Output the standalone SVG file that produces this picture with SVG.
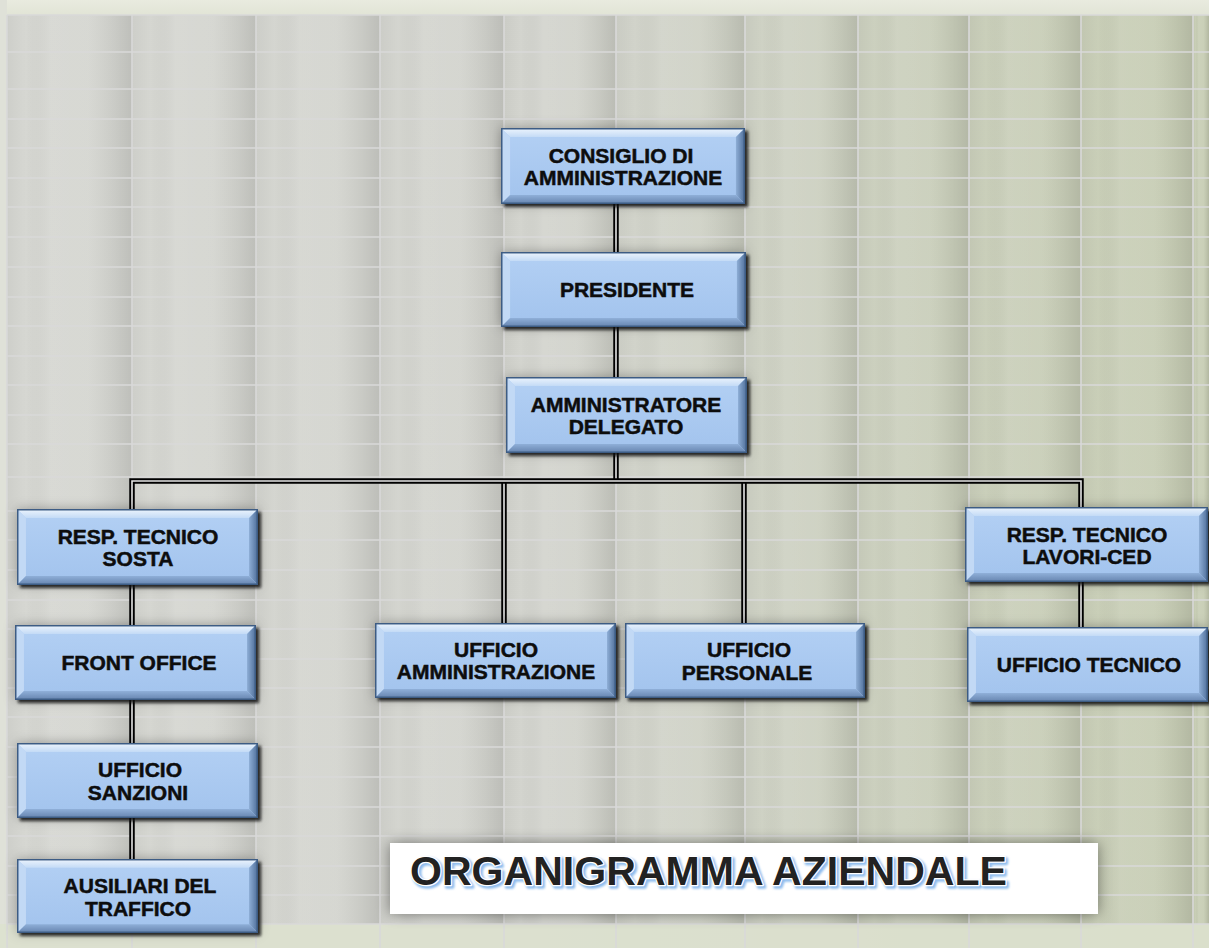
<svg xmlns="http://www.w3.org/2000/svg" xmlns:xlink="http://www.w3.org/1999/xlink" width="1209" height="948" viewBox="0 0 1209 948">
<defs>
<style>
.grid{stroke:#d9d9d9;stroke-width:1.6;fill:none}
.col{fill:url(#colShade)}
.outer{fill:none;stroke:#000;stroke-width:5.5}
.inner{fill:none;stroke:#e6e6e6;stroke-width:1.6}
.lbl{font-family:"Liberation Sans",Arial,sans-serif;font-weight:bold;font-size:21px;fill:#0d0d0d;stroke:#0d0d0d;stroke-width:0.5;text-anchor:middle}
.boxuse{filter:url(#boxShadow)}
</style>
<linearGradient id="bgH" x1="0" y1="0" x2="1" y2="0">
<stop offset="0" stop-color="#d6d7d2"/>
<stop offset="0.45" stop-color="#d3d4ce"/>
<stop offset="0.62" stop-color="#cfd2c5"/>
<stop offset="0.78" stop-color="#cacfbb"/>
<stop offset="1" stop-color="#c8ceb5"/>
</linearGradient>
<linearGradient id="colShade" x1="0" y1="0" x2="1" y2="0">
<stop offset="0" stop-color="#000" stop-opacity="0.04"/>
<stop offset="0.15" stop-color="#000" stop-opacity="0"/>
<stop offset="0.35" stop-color="#fff" stop-opacity="0.07"/>
<stop offset="0.65" stop-color="#fff" stop-opacity="0.04"/>
<stop offset="0.85" stop-color="#000" stop-opacity="0.05"/>
<stop offset="1" stop-color="#000" stop-opacity="0.11"/>
</linearGradient>
<linearGradient id="topStrip" x1="0" y1="0" x2="0" y2="1">
<stop offset="0" stop-color="#e9ebdf"/>
<stop offset="1" stop-color="#e1e4d6"/>
</linearGradient>
<linearGradient id="face" x1="0" y1="0" x2="0" y2="1">
<stop offset="0" stop-color="#b3d0f4"/>
<stop offset="1" stop-color="#a2c3ed"/>
</linearGradient>
<linearGradient id="bevTop" x1="0" y1="0" x2="0" y2="1">
<stop offset="0" stop-color="#eef5fd"/>
<stop offset="1" stop-color="#c4dbf6"/>
</linearGradient>
<linearGradient id="bevRight" x1="0" y1="0" x2="1" y2="0">
<stop offset="0" stop-color="#8eaed6"/>
<stop offset="1" stop-color="#4c6c97"/>
</linearGradient>
<linearGradient id="bevBottom" x1="0" y1="0" x2="0" y2="1">
<stop offset="0" stop-color="#8fafd8"/>
<stop offset="1" stop-color="#6482ad"/>
</linearGradient>
<filter id="boxShadow" x="-10%" y="-20%" width="125%" height="150%">
<feGaussianBlur in="SourceAlpha" stdDeviation="6" result="b1"/>
<feFlood flood-color="#000" flood-opacity="0.3"/>
<feComposite in2="b1" operator="in" result="s1"/>
<feGaussianBlur in="SourceAlpha" stdDeviation="1.5" result="b2"/>
<feOffset in="b2" dx="3" dy="3" result="o2"/>
<feFlood flood-color="#111" flood-opacity="0.85"/>
<feComposite in2="o2" operator="in" result="s2"/>
<feMerge><feMergeNode in="s1"/><feMergeNode in="s2"/><feMergeNode in="SourceGraphic"/></feMerge>
</filter>
<filter id="titleShadow" x="-5%" y="-30%" width="110%" height="160%">
<feGaussianBlur in="SourceAlpha" stdDeviation="7" result="b"/>
<feFlood flood-color="#000" flood-opacity="0.45"/>
<feComposite in2="b" operator="in" result="s"/>
<feMerge><feMergeNode in="s"/><feMergeNode in="SourceGraphic"/></feMerge>
</filter>
<filter id="soft" x="-5%" y="-20%" width="110%" height="140%">
<feGaussianBlur stdDeviation="0.8"/>
</filter>
<symbol id="box" viewBox="0 0 242 76" preserveAspectRatio="none">
<rect x="0" y="0" width="242" height="76" fill="url(#face)"/>
<polygon points="0,0 242,0 233,9 9,9" fill="url(#bevTop)"/>
<polygon points="0,0 9,9 9,67 0,76" fill="#c2d9f5"/>
<polygon points="242,0 242,76 233,67 233,9" fill="url(#bevRight)"/>
<polygon points="0,76 242,76 233,67 9,67" fill="url(#bevBottom)"/>
<rect x="0.75" y="0.75" width="240.5" height="74.5" fill="none" stroke="#3d5c84" stroke-width="1.5"/>
</symbol>
</defs>

<g id="background">
<rect x="0" y="0" width="1209" height="948" fill="url(#bgH)"/>
<rect class="col" x="7" y="15" width="125" height="910"/>
<rect class="col" x="132" y="15" width="124" height="910"/>
<rect class="col" x="256" y="15" width="124" height="910"/>
<rect class="col" x="380" y="15" width="124" height="910"/>
<rect class="col" x="504" y="15" width="112" height="910"/>
<rect class="col" x="616" y="15" width="129" height="910"/>
<rect class="col" x="745" y="15" width="113" height="910"/>
<rect class="col" x="858" y="15" width="111" height="910"/>
<rect class="col" x="969" y="15" width="112" height="910"/>
<rect class="col" x="1081" y="15" width="112" height="910"/>
<rect class="col" x="1193" y="15" width="16" height="910"/>
<rect x="0" y="0" width="1209" height="15" fill="url(#topStrip)"/>
<rect x="0" y="0" width="7" height="948" fill="#dfe1d8"/>
<rect x="0" y="924" width="1209" height="24" fill="#dde2cf" opacity="0.85"/>
<path class="grid" d="M7 15V948M132 15V948M256 15V948M380 15V948M504 15V948M616 15V948M745 15V948M858 15V948M969 15V948M1081 15V948M1193 15V948"/>
<path class="grid" d="M7 15H1209M7 52H1209M7 89H1209M7 119H1209M7 148H1209M7 178H1209M7 207H1209M7 237H1209M7 267H1209M7 297H1209M7 326H1209M7 356H1209M7 385H1209M7 415H1209M7 444H1209M7 477H1209M7 511H1209M7 540H1209M7 570H1209M7 600H1209M7 629H1209M7 659H1209M7 688H1209M7 717H1209M7 747H1209M7 777H1209M7 807H1209M7 836H1209M7 866H1209M7 895H1209M7 924H1209"/>
</g>

<g id="connectors">
<path class="outer" d="M616 204V252M616 327V377M616 453V481M504 481V623M744 481V623M132 585V625M132 700V743M132 818V859M1081 582V627"/>
<path class="inner" d="M616 204V252M616 327V377M616 453V481M504 481V623M744 481V623M132 585V625M132 700V743M132 818V859M1081 582V627"/>
<path class="outer" d="M132 509V481H1081V507"/>
<path class="inner" d="M132 509V481H1081V507"/>
</g>

<g id="n-consiglio">
<use class="boxuse" xlink:href="#box" href="#box" x="501" y="128" width="244" height="76"/>
<text class="lbl" x="621" y="163">CONSIGLIO DI</text>
<text class="lbl" x="623" y="185">AMMINISTRAZIONE</text>
</g>
<g id="n-presidente">
<use class="boxuse" xlink:href="#box" href="#box" x="501" y="252" width="245" height="75"/>
<text class="lbl" x="627" y="297">PRESIDENTE</text>
</g>
<g id="n-amministratore">
<use class="boxuse" xlink:href="#box" href="#box" x="506" y="377" width="241" height="76"/>
<text class="lbl" x="626" y="412">AMMINISTRATORE</text>
<text class="lbl" x="626" y="434">DELEGATO</text>
</g>
<g id="n-resp-sosta">
<use class="boxuse" xlink:href="#box" href="#box" x="17" y="509" width="241" height="76"/>
<text class="lbl" x="138" y="544">RESP. TECNICO</text>
<text class="lbl" x="138" y="566">SOSTA</text>
</g>
<g id="n-resp-lavori">
<use class="boxuse" xlink:href="#box" href="#box" x="965" y="507" width="243" height="75"/>
<text class="lbl" x="1087" y="542">RESP. TECNICO</text>
<text class="lbl" x="1087" y="564">LAVORI-CED</text>
</g>
<g id="n-ufficio-tecnico">
<use class="boxuse" xlink:href="#box" href="#box" x="967" y="627" width="241" height="75"/>
<text class="lbl" x="1089" y="672">UFFICIO TECNICO</text>
</g>
<g id="n-ufficio-amministrazione">
<use class="boxuse" xlink:href="#box" href="#box" x="375" y="623" width="241" height="75"/>
<text class="lbl" x="496" y="657">UFFICIO</text>
<text class="lbl" x="496" y="679">AMMINISTRAZIONE</text>
</g>
<g id="n-ufficio-personale">
<use class="boxuse" xlink:href="#box" href="#box" x="625" y="623" width="240" height="75"/>
<text class="lbl" x="749" y="657">UFFICIO</text>
<text class="lbl" x="747" y="680">PERSONALE</text>
</g>
<g id="n-front-office">
<use class="boxuse" xlink:href="#box" href="#box" x="15" y="625" width="241" height="75"/>
<text class="lbl" x="139" y="670">FRONT OFFICE</text>
</g>
<g id="n-ufficio-sanzioni">
<use class="boxuse" xlink:href="#box" href="#box" x="17" y="743" width="241" height="75"/>
<text class="lbl" x="140" y="777">UFFICIO</text>
<text class="lbl" x="138" y="800">SANZIONI</text>
</g>
<g id="n-ausiliari">
<use class="boxuse" xlink:href="#box" href="#box" x="17" y="859" width="241" height="74"/>
<text class="lbl" x="140" y="893">AUSILIARI  DEL</text>
<text class="lbl" x="138" y="916">TRAFFICO</text>
</g>

<g id="title">
<rect x="390" y="843" width="708" height="71" fill="#fff" filter="url(#titleShadow)"/>
<text x="412" y="887" textLength="597" lengthAdjust="spacingAndGlyphs" font-family="Liberation Sans, Arial, sans-serif" font-weight="bold" font-size="40.5" fill="#7fb3ea" stroke="#8fbdee" stroke-width="3.5" stroke-linejoin="round" filter="url(#soft)">ORGANIGRAMMA AZIENDALE</text>
<text x="410" y="885" textLength="597" lengthAdjust="spacingAndGlyphs" font-family="Liberation Sans, Arial, sans-serif" font-weight="bold" font-size="40.5" fill="#222" stroke="#fff" stroke-width="2.5" stroke-linejoin="round" paint-order="stroke">ORGANIGRAMMA AZIENDALE</text>
</g>
</svg>
